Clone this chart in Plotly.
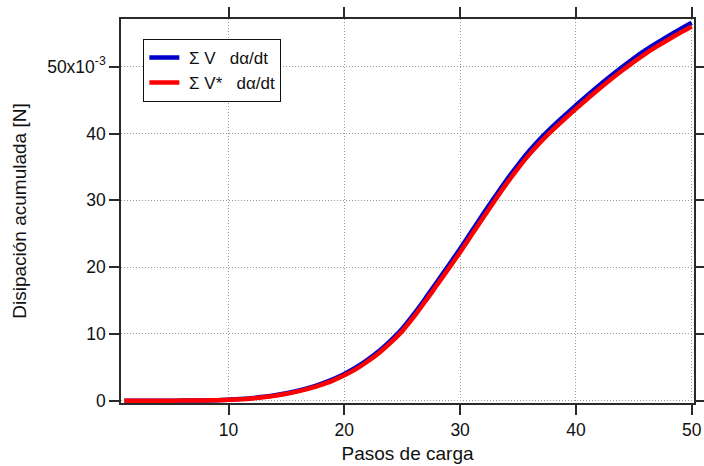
import plotly.graph_objects as go

# Load steps and accumulated dissipation (values in units of 1e-3 N)
pasos = list(range(1, 51))

disip_v = [
    0.00, 0.00, 0.00, 0.00, 0.01, 0.02, 0.03, 0.05, 0.09, 0.16,
    0.25, 0.39, 0.58, 0.81, 1.12, 1.50, 1.96, 2.52, 3.19, 4.00,
    4.97, 6.13, 7.44, 9.01, 10.78, 12.95, 15.31, 17.78, 20.24, 22.76,
    25.37, 27.97, 30.52, 33.00, 35.32, 37.45, 39.35, 41.07, 42.67, 44.22,
    45.74, 47.20, 48.61, 49.96, 51.26, 52.47, 53.57, 54.62, 55.62, 56.57,
]

disip_v_star = [
    0.00, 0.00, 0.00, 0.00, 0.01, 0.02, 0.03, 0.05, 0.08, 0.14,
    0.23, 0.35, 0.52, 0.75, 1.04, 1.40, 1.84, 2.38, 3.01, 3.80,
    4.73, 5.87, 7.16, 8.69, 10.42, 12.55, 14.89, 17.32, 19.76, 22.24,
    24.83, 27.43, 29.98, 32.46, 34.78, 36.91, 38.81, 40.53, 42.13, 43.68,
    45.20, 46.66, 48.07, 49.42, 50.72, 51.93, 53.03, 54.08, 55.08, 56.03,
]

x_ticks = [10, 20, 30, 40, 50]
y_ticks = [0, 10, 20, 30, 40, 50]
y_tick_text = ["0", "10", "20", "30", "40", "50x10<sup>-3</sup>"]

NBSP = "\u00a0"
name_v = f"{NBSP}Σ{NBSP}V{NBSP}{NBSP}{NBSP}dα/dt"
name_v_star = f"{NBSP}Σ{NBSP}V*{NBSP}{NBSP}{NBSP}dα/dt"

FONT = "Liberation Sans, Arial, sans-serif"

fig = go.Figure()
fig.add_trace(go.Scatter(
    x=pasos, y=disip_v, mode="lines", name=name_v,
    line=dict(color="#0000CC", width=4.5, shape="spline", smoothing=1.0),
))
fig.add_trace(go.Scatter(
    x=pasos, y=disip_v_star, mode="lines", name=name_v_star,
    line=dict(color="#FF0000", width=4.5, shape="spline", smoothing=1.0),
))

axis_common = dict(
    showline=True, linecolor="#2A2A2A", linewidth=1.5, mirror="allticks",
    ticks="outside", ticklen=10, tickwidth=1.5, tickcolor="#2A2A2A",
    showgrid=True, gridcolor="#9A9A9A", griddash="1px,2px", gridwidth=1,
    zeroline=False, automargin=False,
    tickfont=dict(family=FONT, size=17.5, color="#111111"),
)

fig.update_xaxes(
    **axis_common,
    range=[0.71, 50.2], tickmode="array", tickvals=x_ticks,
    title=dict(text="Pasos de carga", standoff=8,
               font=dict(family=FONT, size=19, color="#111111")),
)
fig.update_yaxes(
    **axis_common,
    range=[-0.34, 57.14], tickmode="array", tickvals=y_ticks, ticktext=y_tick_text,
    title=dict(text="Disipación acumulada [N]", standoff=16,
               font=dict(family=FONT, size=19, color="#111111")),
)

fig.update_layout(
    width=704, height=466,
    margin=dict(l=121, r=10, t=19, b=63),
    paper_bgcolor="white", plot_bgcolor="white",
    showlegend=True,
    legend=dict(
        x=0.039, y=0.948, xanchor="left", yanchor="top",
        bgcolor="white", bordercolor="#111111", borderwidth=1,
        font=dict(family=FONT, size=17, color="#111111"),
        tracegroupgap=0, itemwidth=30,
    ),
)

fig.write_html("out.html")
